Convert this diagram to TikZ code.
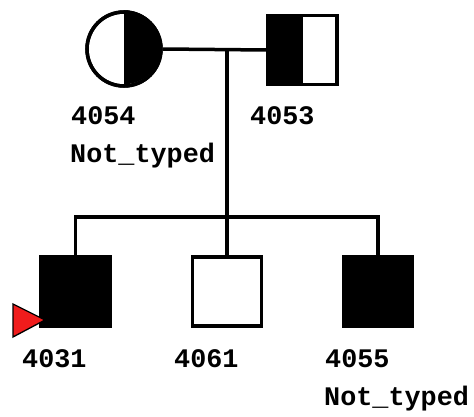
\documentclass[tikz,border=0pt]{standalone}
\usepackage{fontspec}
\newfontfamily\lblfont{Liberation Mono}
\begin{document}
\begin{tikzpicture}[x=1pt,y=-1pt,
  ln/.style={line width=3.5pt},
  sq/.style={draw, line width=3.5pt, minimum size=69pt, inner sep=0pt, rectangle},
  cir/.style={draw, line width=3.5pt, minimum size=74pt, inner sep=0pt, circle},
  lbl/.style={anchor=base west, inner sep=0pt, font=\lblfont\bfseries\fontsize{26.8}{30}\selectfont}]
\useasboundingbox (0,0) rectangle (474,417);
% parents
\node[cir] (p4054) at (124,49) {};
\fill (p4054.north) arc[start angle=90, end angle=-90, radius=37pt] -- cycle;
\node[cir] at (124,49) {};
\node[sq] (p4053) at (302.5,50) {};
\fill (p4053.north west) rectangle ([xshift=0.5pt]p4053.south);
\node[sq] at (302.5,50) {};
% children
\node[sq, fill=black] (c4031) at (75.5,291.5) {};
\node[sq, fill=white] (c4061) at (227,291.5) {};
\node[sq, fill=black] (c4055) at (378,291.5) {};
% connectors
\coordinate (m) at (227,49);
\coordinate (s) at (227,217);
\coordinate (sl) at (75.5,217);
\coordinate (sr) at (378,217);
\draw[ln] (p4054.east) -- (p4053.west);
\draw[ln] (m) -- (s);
\draw[ln] (c4031.north) -- (sl) -- (sr) -- (c4055.north);
\draw[ln] (s) -- (c4061.north);
% proband arrow
\coordinate (a1) at (13,304);
\coordinate (a2) at (13,337);
\coordinate (a3) at (45,320);
\filldraw[fill={rgb,255:red,240;green,28;blue,28}, draw=black, line width=1.3pt, line join=miter] (a1) -- (a2) -- (a3) -- cycle;
% labels
\node[lbl] (t4054) at (71,125) {4054};
\node[lbl] (n4054) at (70,163) {Not\_typed};
\node[lbl] (t4053) at (250,125) {4053};
\node[lbl] (t4031) at (22,367) {4031};
\node[lbl] (t4061) at (174,367) {4061};
\node[lbl] (t4055) at (325,367) {4055};
\node[lbl] (n4055) at (324,405) {Not\_typed};
\end{tikzpicture}
\end{document}
